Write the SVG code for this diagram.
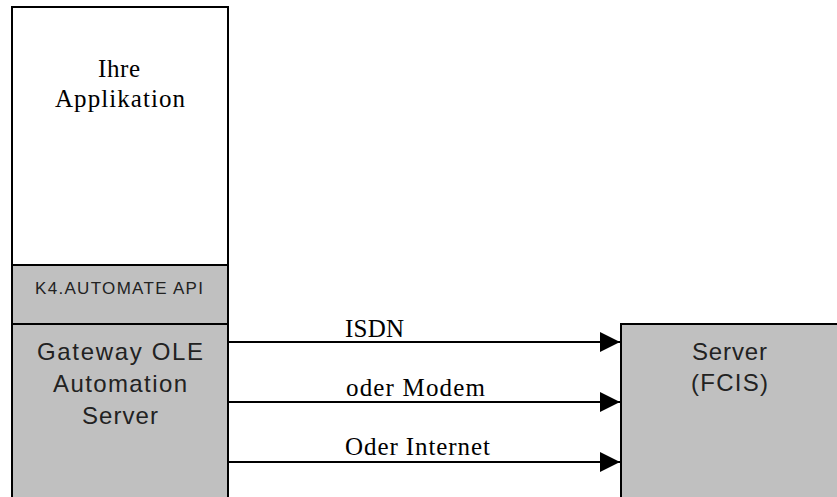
<svg xmlns="http://www.w3.org/2000/svg" width="837" height="497" viewBox="0 0 837 497">
<style>
.box{stroke:#000;stroke-width:2}
.gray{fill:#c0c0c0}
.white{fill:#fff}
.serif{font-family:"Liberation Serif","Times New Roman",serif;font-size:25px;fill:#000}
.sans{font-family:"Liberation Sans",Arial,sans-serif;font-size:24px;fill:#222}
.small{font-family:"Liberation Sans",Arial,sans-serif;font-size:17px;fill:#222}
.conn{stroke:#000;stroke-width:2;fill:none}
</style>
<defs>
<marker id="ah" viewBox="0 0 20 20" refX="20" refY="10" markerWidth="20" markerHeight="20" markerUnits="userSpaceOnUse" orient="auto">
<path d="M0,0 L20,10 L0,20 Z" fill="#000"/>
</marker>
</defs>
<rect width="837" height="497" fill="#fff"/>
<g id="app">
<rect class="box white" x="12" y="7" width="216" height="258"/>
<text class="serif" x="98" y="77" textLength="42">Ihre</text>
<text class="serif" x="55" y="107" textLength="130">Applikation</text>
</g>
<g id="api">
<rect class="box gray" x="12" y="265" width="216" height="59"/>
<text class="small" x="35" y="294" textLength="168">K4.AUTOMATE API</text>
</g>
<g id="gateway">
<rect class="box gray" x="12" y="324" width="216" height="190"/>
<text class="sans" x="37" y="360" textLength="166">Gateway OLE</text>
<text class="sans" x="53" y="392" textLength="134">Automation</text>
<text class="sans" x="82" y="424" textLength="76">Server</text>
</g>
<g id="server">
<rect class="box gray" x="621" y="324" width="230" height="190"/>
<text class="sans" x="692" y="360" textLength="75">Server</text>
<text class="sans" x="691" y="391" textLength="77">(FCIS)</text>
</g>
<g id="connectors">
<line class="conn" x1="228" y1="342" x2="620" y2="342" marker-end="url(#ah)"/>
<line class="conn" x1="228" y1="402" x2="620" y2="402" marker-end="url(#ah)"/>
<line class="conn" x1="228" y1="462" x2="620" y2="462" marker-end="url(#ah)"/>
<text class="serif" x="345" y="337" textLength="59">ISDN</text>
<text class="serif" x="346" y="396" textLength="139">oder Modem</text>
<text class="serif" x="345" y="455" textLength="145">Oder Internet</text>
</g>
</svg>
